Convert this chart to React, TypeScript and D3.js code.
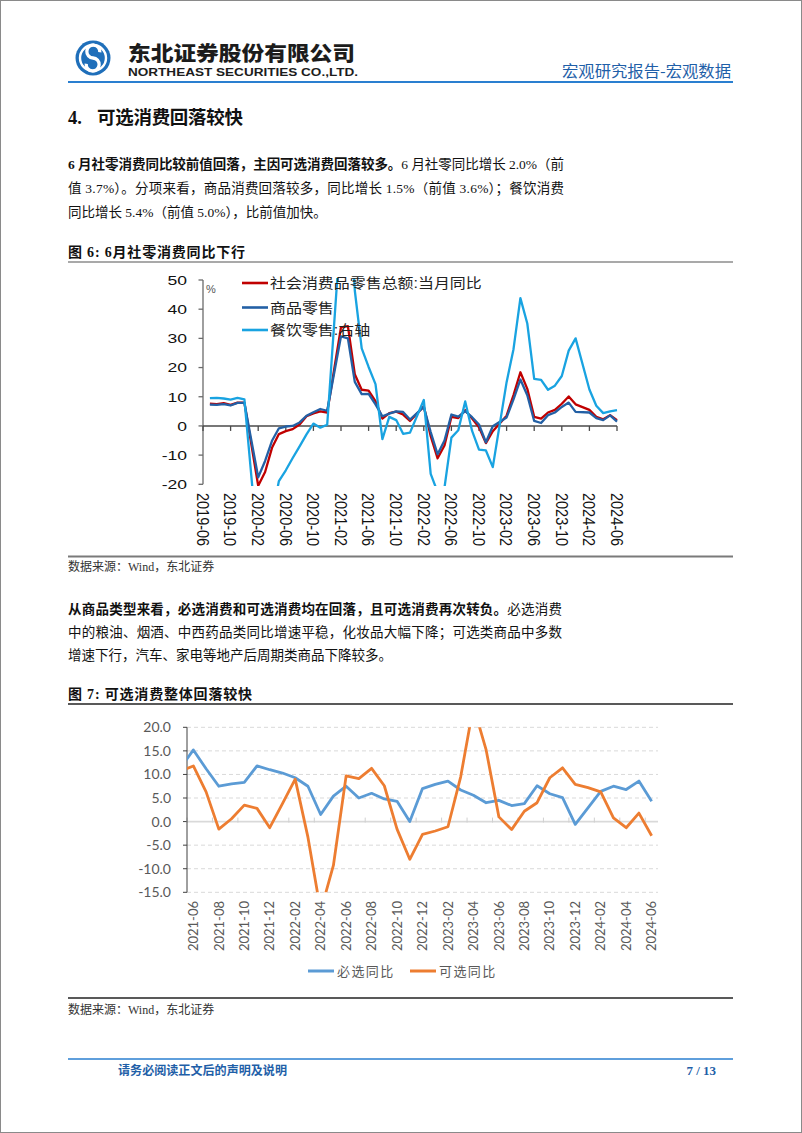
import React from "react";
import * as d3 from "d3";

// ---------- Chart 1 data (图6) ----------
const months1 = [
  "2019-07","2019-08","2019-09","2019-10","2019-11","2019-12",
  "2020-02","2020-03","2020-04","2020-05","2020-06","2020-07","2020-08","2020-09","2020-10","2020-11","2020-12",
  "2021-02","2021-03","2021-04","2021-05","2021-06","2021-07","2021-08","2021-09","2021-10","2021-11","2021-12",
  "2022-02","2022-03","2022-04","2022-05","2022-06","2022-07","2022-08","2022-09","2022-10","2022-11","2022-12",
  "2023-02","2023-03","2023-04","2023-05","2023-06","2023-07","2023-08","2023-09","2023-10","2023-11","2023-12",
  "2024-02","2024-03","2024-04","2024-05","2024-06",
];
const retailTotal = [
  7.6, 7.5, 7.8, 7.2, 8.0, 8.0,
  -20.5, -15.8, -7.5, -2.8, -1.8, -1.1, 0.5, 3.3, 4.3, 5.0, 4.6,
  33.8, 34.2, 17.7, 12.4, 12.1, 8.5, 2.5, 4.4, 4.9, 3.9, 1.7,
  6.7, -3.5, -11.1, -6.7, 3.1, 2.7, 5.4, 2.5, -0.5, -5.9, -1.8,
  3.5, 10.6, 18.4, 12.7, 3.1, 2.5, 4.6, 5.5, 7.6, 10.1, 7.4,
  5.5, 3.1, 2.3, 3.7, 2.0,
];
const retailGoods = [
  7.3, 7.2, 7.5, 7.0, 7.9, 7.9,
  -17.6, -12.0, -5.1, -0.8, -0.2, 0.0, 1.2, 3.5, 4.7, 5.8, 5.2,
  30.7, 30.0, 15.1, 10.9, 11.0, 7.4, 3.3, 4.2, 5.0, 4.8, 2.2,
  6.5, -2.1, -9.7, -5.0, 3.9, 3.2, 5.1, 3.0, 0.5, -5.6, -0.1,
  2.9, 9.1, 15.9, 10.5, 1.7, 1.0, 3.7, 4.6, 6.5, 8.0, 4.8,
  4.6, 2.7, 2.0, 3.6, 1.5,
];
const retailCatering = [
  9.5, 9.6, 9.4, 9.0, 9.6, 9.1,
  -43.1, -46.8, -31.1, -18.9, -15.2, -11.0, -7.0, -2.9, 0.8, -0.6, 0.4,
  68.9, 91.6, 46.4, 26.6, 20.2, 14.3, -4.5, 3.1, 2.0, -2.7, -2.3,
  8.9, -16.4, -22.7, -21.1, -4.0, -1.5, 8.4, -1.7, -8.1, -8.4, -14.1,
  15.0, 26.3, 43.8, 35.1, 16.1, 15.8, 12.4, 13.8, 17.1, 25.8, 30.0,
  12.5, 6.9, 4.4, 5.0, 5.4,
];
const xLabels1 = [
  "2019-06","2019-10","2020-02","2020-06","2020-10","2021-02","2021-06","2021-10",
  "2022-02","2022-06","2022-10","2023-02","2023-06","2023-10","2024-02","2024-06",
];
const yTicks1 = [50, 40, 30, 20, 10, 0, -10, -20];
const legend1 = ["社会消费品零售总额:当月同比", "商品零售", "餐饮零售:右轴"];

// ---------- Chart 2 data (图7) ----------
const months2 = [
  "2021-05","2021-06","2021-07","2021-08","2021-09","2021-10","2021-11","2021-12",
  "2022-01","2022-02","2022-03","2022-04","2022-05","2022-06","2022-07","2022-08","2022-09","2022-10","2022-11","2022-12",
  "2023-01","2023-02","2023-03","2023-04","2023-05","2023-06","2023-07","2023-08","2023-09","2023-10","2023-11","2023-12",
  "2024-01","2024-02","2024-03","2024-04","2024-05","2024-06",
];
const essentialYoY = [
  11.4, 15.2, 11.2, 7.5, 8.0, 8.3, 11.8, 11.0,
  10.3, 9.3, 7.5, 1.5, 5.4, 7.5, 5.0, 6.0, 4.8, 4.3, 0.0, 7.0,
  7.9, 8.6, 6.7, 5.6, 4.0, 4.5, 3.4, 3.8, 7.6, 5.9, 5.1, -0.6,
  2.9, 6.4, 7.5, 6.8, 8.6, 4.3,
];
const optionalYoY = [
  10.7, 11.8, 6.3, -1.6, 0.6, 3.5, 2.8, -1.3,
  3.8, 9.0, -3.3, -19.0, -9.3, 9.7, 9.1, 11.3, 7.6, -1.6, -8.0, -2.7,
  -2.0, -1.1, 9.5, 24.5, 15.2, 1.0, -1.7, 2.2, 4.0, 9.3, 11.4, 7.9,
  7.2, 6.3, 0.8, -1.3, 1.8, -3.0,
];
const xLabels2 = [
  "2021-06","2021-08","2021-10","2021-12","2022-02","2022-04","2022-06","2022-08","2022-10","2022-12",
  "2023-02","2023-04","2023-06","2023-08","2023-10","2023-12","2024-02","2024-04","2024-06",
];
const yTicks2 = [20, 15, 10, 5, 0, -5, -10, -15];
const legend2 = ["必选同比", "可选同比"];

const CJK = "'Noto Sans CJK SC', sans-serif";
const SERIF = "'Liberation Serif', 'Noto Sans CJK SC', serif";
const SANS = "'Liberation Sans', 'Noto Sans CJK SC', sans-serif";
const LATO = "Lato, 'Noto Sans CJK SC', sans-serif";
const BLUE = "#1f5fa8";

function monthIndex(s: string, base: string) {
  const [y, m] = s.split("-").map(Number);
  const [by, bm] = base.split("-").map(Number);
  return (y - by) * 12 + (m - bm);
}

function Chart1() {
  const x = d3.scaleLinear().domain([0, 60]).range([203, 617]);
  const y = d3.scaleLinear().domain([-20, 50]).range([484.3, 280]);
  const mk = (vals: number[]) =>
    d3.line<number>()
      .x((_, i) => x(monthIndex(months1[i], "2019-06")))
      .y((d) => y(d))(vals) || "";
  const series = [
    { vals: retailTotal, color: "#c00000" },
    { vals: retailGoods, color: "#2360a5" },
    { vals: retailCatering, color: "#19a3e1" },
  ];
  const legY = [283, 307.5, 330];
  return (
    <g>
      <defs>
        <clipPath id="clip1">
          <rect x={203} y={278} width={416} height={208} />
        </clipPath>
      </defs>
      <line x1={203} x2={203} y1={y(50)} y2={y(-20)} stroke="#6b6b6b" strokeWidth={1.3} />
      {yTicks1.map((t) => (
        <g key={t}>
          <line x1={198.5} x2={203} y1={y(t)} y2={y(t)} stroke="#6b6b6b" strokeWidth={1.3} />
          <text
            transform={`translate(187,${y(t)}) scale(1.3,1)`}
            textAnchor="end"
            dy="0.36em"
            fontFamily={SANS}
            fontSize={13.5}
            fill="#111"
          >
            {t}
          </text>
        </g>
      ))}
      <line x1={203} x2={617} y1={y(0)} y2={y(0)} stroke="#4a4a4a" strokeWidth={1.4} />
      {xLabels1.map((l) => {
        const xi = x(monthIndex(l, "2019-06"));
        return (
          <g key={l}>
            <line x1={xi} x2={xi} y1={y(0)} y2={y(0) + 5} stroke="#4a4a4a" strokeWidth={1.3} />
            <text
              transform={`translate(${xi},493) rotate(90) scale(1,1.2)`}
              textAnchor="start"
              dy="0.36em"
              fontFamily={SANS}
              fontSize={14.5}
              fill="#111"
            >
              {l}
            </text>
          </g>
        );
      })}
      <text x={206} y={293} fontFamily={SANS} fontSize={11} fill="#555">%</text>
      <g clipPath="url(#clip1)">
        {series.map((s, i) => (
          <path key={i} d={mk(s.vals)} fill="none" stroke={s.color} strokeWidth={2.3} strokeLinejoin="round" />
        ))}
      </g>
      {legend1.map((l, i) => (
        <g key={l}>
          <line x1={242} x2={268} y1={legY[i]} y2={legY[i]} stroke={series[i].color} strokeWidth={2.6} />
          <text
            transform={`translate(270,${legY[i]}) scale(1.14,1)`}
            dy="0.36em"
            fontFamily={SANS}
            fontSize={14}
            fill="#222"
          >
            {l}
          </text>
        </g>
      ))}
    </g>
  );
}

function Chart2() {
  const x = d3.scaleLinear().domain([-0.5, 36.5]).range([187, 658]);
  const y = d3.scaleLinear().domain([-15, 20]).range([892.3, 727.3]);
  const idx = (s: string) => monthIndex(s, "2021-06");
  const mk = (vals: number[]) =>
    d3.line<number>()
      .x((_, i) => x(idx(months2[i])))
      .y((d) => y(d))(vals) || "";
  const series = [
    { vals: essentialYoY, color: "#5b9bd5" },
    { vals: optionalYoY, color: "#ed7d31" },
  ];
  return (
    <g>
      <defs>
        <clipPath id="clip2">
          <rect x={187} y={y(20)} width={475} height={y(-15) - y(20)} />
        </clipPath>
      </defs>
      {yTicks2.map((t) => (
        <g key={t}>
          {t !== 0 && (
            <line x1={187} x2={658} y1={y(t)} y2={y(t)} stroke="#d9d9d9" strokeWidth={1} strokeDasharray="4,3" />
          )}
          <line x1={183} x2={187} y1={y(t)} y2={y(t)} stroke="#404040" strokeWidth={1} />
          <text x={171} y={y(t)} dy="0.36em" textAnchor="end" fontFamily={LATO} fontSize={14} fill="#595959">
            {t.toFixed(1)}
          </text>
        </g>
      ))}
      <line x1={187} x2={658} y1={y(0)} y2={y(0)} stroke="#d9d9d9" strokeWidth={1.6} />
      {xLabels2.map((l) => {
        const xi = x(idx(l));
        const tx = x(idx(l) - 0.5);
        return (
          <g key={l}>
            <line x1={tx} x2={tx} y1={y(0) - 4} y2={y(0) + 1} stroke="#d0d0d0" strokeWidth={1} />
            <text
              transform={`translate(${xi},901) rotate(-90)`}
              textAnchor="end"
              dy="0.36em"
              fontFamily={LATO}
              fontSize={13}
              fill="#595959"
            >
              {l}
            </text>
          </g>
        );
      })}
      <line x1={187} x2={187} y1={y(20)} y2={y(-15)} stroke="#404040" strokeWidth={1} />
      <g clipPath="url(#clip2)">
        {series.map((s, i) => (
          <path key={i} d={mk(s.vals)} fill="none" stroke={s.color} strokeWidth={2.8} strokeLinejoin="round" />
        ))}
      </g>
      {legend2.map((l, i) => {
        const lx = i === 0 ? 308 : 410;
        return (
          <g key={l}>
            <line x1={lx} x2={lx + 26} y1={971} y2={971} stroke={series[i].color} strokeWidth={3} />
            <text x={lx + 29} y={971} dy="0.36em" fontFamily={CJK} fontSize={13} letterSpacing={1.4} fill="#595959">
              {l}
            </text>
          </g>
        );
      })}
    </g>
  );
}

export default function App() {
  return (
    <div style={{ position: "absolute", left: 0, top: 0 }}>
      <svg width={802} height={1133} style={{ display: "block", background: "#fff" }}>
        <rect x={0.5} y={0.5} width={801} height={1132} fill="#fff" stroke="#8a8a8a" strokeWidth={1} />
        {/* header logo */}
        <circle cx={93} cy={58} r={17.5} fill="#1f6fba" />
        <circle cx={93} cy={58} r={13} fill="none" stroke="#fff" strokeWidth={2.4} />
        <path d="M99.8 52.2 A6.5 6.5 0 1 0 93 58 A6.5 6.5 0 1 1 86.2 63.8" fill="none" stroke="#fff" strokeWidth={3.3} />
        <text x={128} y={60.5} fontFamily={CJK} fontWeight={900} fontSize={20.5} fill="#1c1c1c" textLength={227} lengthAdjust="spacingAndGlyphs">
          东北证券股份有限公司
        </text>
        <text x={128} y={76} fontFamily={SANS} fontWeight={700} fontSize={10.5} fill="#1c1c1c" textLength={230} lengthAdjust="spacingAndGlyphs">
          NORTHEAST SECURITIES CO.,LTD.
        </text>
        <text x={731} y={77} textAnchor="end" fontFamily={CJK} fontSize={15.5} fill={BLUE} textLength={169} lengthAdjust="spacingAndGlyphs">
          宏观研究报告-宏观数据
        </text>
        <line x1={68} x2={733} y1={82} y2={82} stroke="#2a7fd0" strokeWidth={2} />

        {/* heading */}
        <text x={68} y={124} fontFamily={SERIF} fontWeight={700} fontSize={18.5} fill="#111">
          4.
        </text>
        <text x={97} y={124} fontFamily={SERIF} fontWeight={700} fontSize={18.5} fill="#111" textLength={146} lengthAdjust="spacing">
          可选消费回落较快
        </text>

        {/* paragraph 1 */}
        <g fontFamily={SERIF} fontSize={13.5} fill="#111">
          <text x={68} y={169} textLength={496} lengthAdjust="spacing">
            <tspan fontWeight={700}>6 月社零消费同比较前值回落，主因可选消费回落较多。</tspan>
            <tspan>6 月社零同比增长 2.0%（前</tspan>
          </text>
          <text x={68} y={193} textLength={496} lengthAdjust="spacing">
            值 3.7%）。分项来看，商品消费回落较多，同比增长 1.5%（前值 3.6%）；餐饮消费
          </text>
          <text x={68} y={217}>同比增长 5.4%（前值 5.0%），比前值加快。</text>
        </g>
        <text x={68} y={257} fontFamily={SERIF} fontWeight={700} fontSize={14} fill="#111" textLength={177} lengthAdjust="spacing">
          图 6: 6月社零消费同比下行
        </text>
        <line x1={68} x2={733} y1={262} y2={262} stroke="#8c8c8c" strokeWidth={1.6} />
        <Chart1 />
        <line x1={68} x2={733} y1={556.5} y2={556.5} stroke="#7a7a7a" strokeWidth={2} />
        <text x={68} y={571} fontFamily={SERIF} fontSize={12} fill="#333">数据来源：Wind，东北证券</text>

        {/* paragraph 2 */}
        <g fontFamily={SERIF} fontSize={13.5} fill="#111">
          <text x={68} y={614} textLength={494} lengthAdjust="spacing">
            <tspan fontWeight={700}>从商品类型来看，必选消费和可选消费均在回落，且可选消费再次转负。</tspan>
            <tspan>必选消费</tspan>
          </text>
          <text x={68} y={637} textLength={494} lengthAdjust="spacing">
            中的粮油、烟酒、中西药品类同比增速平稳，化妆品大幅下降；可选类商品中多数
          </text>
          <text x={68} y={660}>增速下行，汽车、家电等地产后周期类商品下降较多。</text>
        </g>
        <text x={68} y={699} fontFamily={SERIF} fontWeight={700} fontSize={14} fill="#111" textLength={184} lengthAdjust="spacing">
          图 7: 可选消费整体回落较快
        </text>
        <line x1={68} x2={733} y1={704} y2={704} stroke="#222" strokeWidth={1.4} />
        <Chart2 />
        <line x1={68} x2={733} y1={998} y2={998} stroke="#222" strokeWidth={1.6} />
        <text x={68} y={1014} fontFamily={SERIF} fontSize={12} fill="#333">数据来源：Wind，东北证券</text>

        {/* footer */}
        <line x1={68} x2={733} y1={1059} y2={1059} stroke="#2a7fd0" strokeWidth={1.6} />
        <text x={118} y={1075} fontFamily={SERIF} fontWeight={700} fontSize={12.5} fill={BLUE} textLength={169} lengthAdjust="spacingAndGlyphs">
          请务必阅读正文后的声明及说明
        </text>
        <text x={716} y={1075} textAnchor="end" fontFamily={SERIF} fontWeight={700} fontSize={13} fill={BLUE}>
          7 / 13
        </text>
      </svg>
    </div>
  );
}
